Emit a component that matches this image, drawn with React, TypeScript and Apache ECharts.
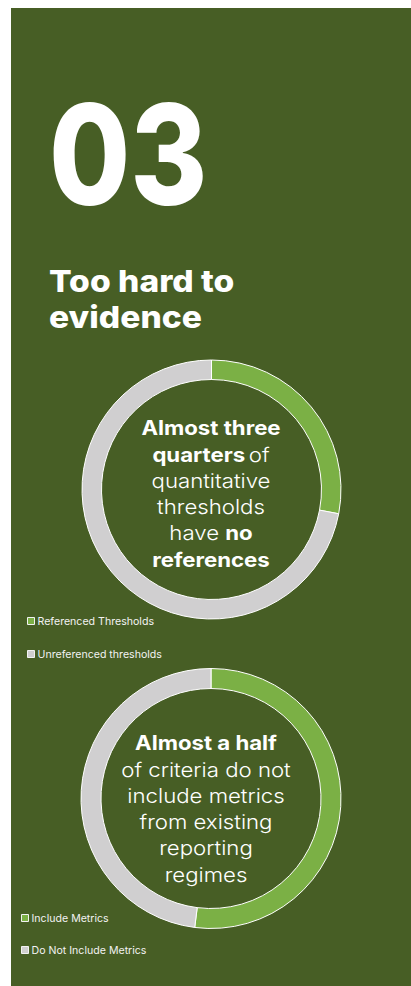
import React, { useEffect, useRef } from "react";
import * as echarts from "echarts";

const BG = "#475E25";
const GREEN = "#7BB045";
const GREY = "#D0CFD0";
const FONT = "Inter, 'Noto Sans', sans-serif";

const sectionNumber = "03";
const headingLines = ["Too hard to", "evidence"];

const chart1Names = ["Referenced Thresholds", "Unreferenced thresholds"];
const chart1Values = [28, 72];
const chart2Names = ["Include Metrics", "Do Not Include Metrics"];
const chart2Values = [52, 48];

const chart1Text = "{b|Almost three}\n{b|quarters} {n|of}\n{n|quantitative}\n{n|thresholds}\n{n|have }{b|no}\n{b|references}";
const chart2Text = "{b|Almost a half}\n{n|of criteria do not}\n{n|include metrics}\n{n|from existing}\n{n|reporting}\n{n|regimes}";

export default function App() {
  const ref = useRef<HTMLDivElement>(null);
  useEffect(() => {
    if (!ref.current) return;
    const chart = echarts.init(ref.current, null, { renderer: "svg" });
    const rich = {
      b: { fontFamily: FONT, fontWeight: 700, fontSize: 20, fill: "#fff", lineHeight: 26.3 },
      n: { fontFamily: FONT, fontWeight: 300, fontSize: 20, fill: "#fff", lineHeight: 26.3 },
    };
    const mkData = (names: string[], vals: number[]) =>
      names.map((n, i) => ({ name: n, value: vals[i], itemStyle: { color: i === 0 ? GREEN : GREY } }));
    const pieBase = {
      type: "pie",
      startAngle: 90,
      clockwise: true,
      label: { show: false },
      labelLine: { show: false },
      silent: true,
      itemStyle: { borderColor: "#ffffff", borderWidth: 1 },
    };
    const legendBase = {
      orient: "vertical",
      itemWidth: 7,
      itemHeight: 7,
      icon: "rect",
      itemStyle: { borderColor: "#f2f2f2", borderWidth: 1 },
      textStyle: { color: "#f2f2f2", fontFamily: FONT, fontSize: 10.6, padding: [0, 0, 0, -2], lineHeight: 12 },
    };
    chart.setOption({
      animation: false,
      backgroundColor: BG,
      legend: [
        { ...legendBase, data: chart1Names, left: 11, top: 602, itemGap: 21 },
        { ...legendBase, data: chart2Names, left: 5, top: 899, itemGap: 20 },
      ],
      series: [
        { ...pieBase, center: [200.5, 481.5], radius: [110, 129.5], data: mkData(chart1Names, chart1Values) },
        { ...pieBase, center: [200, 790.5], radius: [110, 130], data: mkData(chart2Names, chart2Values) },
      ],
      graphic: [
        {
          type: "text",
          x: 38,
          y: 76,
          scaleX: 0.84,
          style: { text: sectionNumber, fill: "#fff", font: `800 140px ${FONT}`, verticalAlign: "top" },
        },
        {
          type: "text",
          x: 38,
          y: 255,
          scaleX: 1.12,
          style: {
            text: headingLines.join("\n"),
            fill: "#fff",
            fontFamily: FONT,
            fontWeight: 800,
            fontSize: 30,
            lineHeight: 36,
            verticalAlign: "top",
          },
        },
        {
          type: "text",
          x: 200,
          y: 407,
          scaleX: 1.11,
          style: { text: chart1Text, align: "center", verticalAlign: "top", rich },
        },
        {
          type: "text",
          x: 195,
          y: 722,
          scaleX: 1.11,
          style: { text: chart2Text, align: "center", verticalAlign: "top", rich },
        },
      ],
    });
    return () => chart.dispose();
  }, []);
  return (
    <div
      ref={ref}
      style={{ position: "fixed", left: 11, top: 8, width: 400, height: 978 }}
    />
  );
}
